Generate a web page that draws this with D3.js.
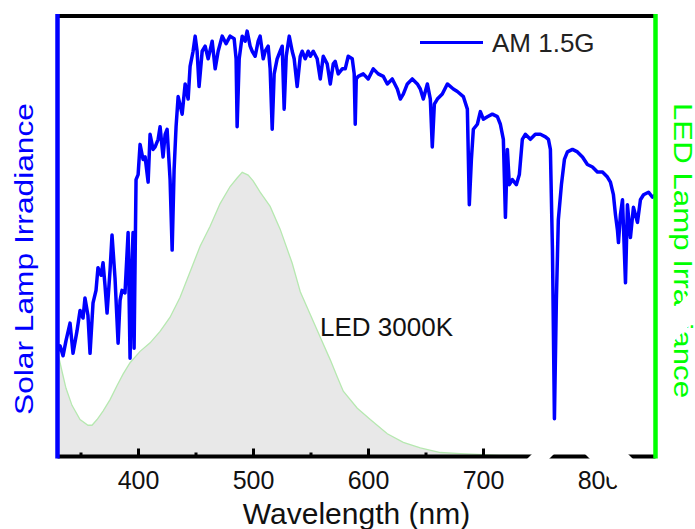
<!DOCTYPE html>
<html>
<head>
<meta charset="utf-8">
<script src="https://cdn.jsdelivr.net/npm/d3@7"></script>
<style>
  body { margin: 0; background: #fff; }
  svg { display: block; }
</style>
</head>
<body>
<div id="chart"></div>
<script>
// AM 1.5G solar spectrum (nm, W m-2 nm-1)
var solarWavelength = [330.4,332.2,334.8,337.4,340.9,343.5,347.0,349.6,352.2,353.9,
  356.5,358.3,360.9,363.5,365.2,367.9,369.6,371.3,373.1,375.7,
  377.4,380.0,382.7,384.4,386.1,388.7,391.4,393.1,394.8,395.7,
  396.6,398.3,400.1,401.8,404.4,406.2,408.8,410.5,413.1,414.9,
  417.5,419.2,421.8,423.6,425.3,427.9,429.7,431.4,433.1,434.9,
  438.4,441.0,443.6,445.3,447.9,449.7,451.4,453.1,455.8,458.4,
  461.0,464.5,467.1,469.7,473.2,476.6,480.1,483.6,485.3,486.2,
  488.0,490.6,493.2,494.9,497.5,499.3,501.9,504.5,506.2,508.9,
  510.6,513.2,514.9,516.7,518.4,521.0,523.6,525.4,527.1,528.9,
  531.5,534.1,535.8,538.4,541.1,542.8,545.4,548.0,549.8,552.4,
  555.8,558.5,561.1,564.5,567.2,569.8,571.5,574.1,577.6,580.2,
  582.8,586.3,588.0,588.9,589.8,591.5,595.9,600.2,604.6,608.9,
  613.3,616.8,621.1,625.5,628.1,630.7,634.2,638.5,642.9,645.5,
  648.1,651.6,654.2,655.9,657.7,660.3,664.6,669.0,674.2,677.7,
  682.9,686.4,688.1,689.9,691.6,695.1,697.7,700.3,703.8,708.1,
  712.5,715.1,717.7,719.5,721.2,722.9,725.5,729.0,731.6,734.2,
  736.8,741.2,745.5,749.9,754.3,756.9,758.6,760.4,762.1,763.8,
  765.5,768.2,770.8,773.4,777.8,782.1,786.5,790.8,795.2,799.5,
  803.9,808.2,810.8,813.4,815.2,816.9,817.8,819.5,821.3,823.9,
  825.6,828.2,830.8,834.3,836.9,839.6,843.9,847.4,850.0];
var solarIrradiance = [0.42,0.44,0.40,0.46,0.53,0.41,0.50,0.58,0.55,0.63,
  0.56,0.41,0.61,0.66,0.75,0.72,0.77,0.68,0.57,0.74,
  0.88,0.71,0.45,0.62,0.66,0.65,0.89,0.39,0.78,0.89,
  0.43,1.10,1.12,1.24,1.18,1.19,1.09,1.28,1.22,1.23,
  1.26,1.31,1.19,1.28,1.30,1.10,0.82,1.14,1.31,1.43,
  1.36,1.48,1.42,1.55,1.61,1.67,1.61,1.47,1.61,1.63,
  1.58,1.65,1.54,1.61,1.67,1.64,1.67,1.66,1.58,1.31,
  1.58,1.67,1.65,1.69,1.63,1.61,1.59,1.65,1.67,1.58,
  1.61,1.63,1.54,1.30,1.52,1.58,1.61,1.63,1.38,1.59,
  1.67,1.61,1.58,1.47,1.59,1.61,1.58,1.61,1.59,1.61,
  1.58,1.50,1.59,1.56,1.48,1.56,1.57,1.52,1.54,1.54,
  1.59,1.58,1.52,1.32,1.50,1.51,1.52,1.50,1.54,1.52,
  1.51,1.48,1.50,1.46,1.42,1.44,1.48,1.50,1.48,1.46,
  1.42,1.48,1.42,1.23,1.40,1.42,1.44,1.48,1.46,1.45,
  1.43,1.38,1.00,1.18,1.30,1.32,1.37,1.34,1.35,1.36,
  1.35,1.32,1.26,0.95,1.22,1.08,1.10,1.08,1.12,1.26,
  1.28,1.26,1.28,1.28,1.27,1.26,1.22,0.82,0.15,0.62,
  0.94,1.08,1.18,1.21,1.22,1.21,1.19,1.16,1.15,1.13,
  1.13,1.11,1.09,1.04,0.96,0.90,0.85,0.96,1.02,0.69,
  1.00,0.87,0.99,0.93,1.02,1.04,1.05,1.03,1.04];

// LED 3000K emission (normalised to its peak)
var ledWavelength = [330,333.9,337.4,342.6,349.6,356.5,360.0,364.4,369.6,375.7,
  381.8,387.0,393.1,401.8,410.5,419.2,427.9,436.6,445.3,454.0,
  462.7,471.4,480.1,486.2,490.6,495.8,500.1,506.2,514.9,523.6,
  534.1,541.1,549.8,558.5,567.2,573.3,578.5,590.7,602.0,616.8,
  630.7,645.5,662.9,680.3,715,767,850];
var ledIrradiance = [0.37,0.30,0.24,0.18,0.13,0.11,0.11,0.13,0.16,0.20,
  0.25,0.29,0.33,0.37,0.40,0.44,0.49,0.56,0.65,0.74,
  0.81,0.89,0.95,0.98,1.00,0.99,0.97,0.93,0.88,0.80,
  0.68,0.58,0.50,0.42,0.34,0.28,0.23,0.17,0.13,0.08,
  0.05,0.03,0.014,0.01,0.004,0.002,0];

var xTicks = [400, 500, 600, 700, 800];
var xMinorTicks = [350, 450, 550, 650, 750];

var width = 695, height = 529;
var plotLeft = 57.5, plotRight = 655.5, plotTop = 16, plotBottom = 456.5;
var font = "'Liberation Sans', Arial, sans-serif";

var svg = d3.select("#chart").append("svg")
  .attr("width", width)
  .attr("height", height);

var x = d3.scaleLinear().domain([330, 850]).range([plotLeft, plotRight]);
var ySolar = d3.scaleLinear().domain([0, 1.75]).range([plotBottom, plotTop]);
var yLed = d3.scaleLinear().domain([0, 1.55]).range([plotBottom, plotTop]);

var solarData = solarWavelength.map(function (w, i) { return { w: w, v: solarIrradiance[i] }; });
var ledData = ledWavelength.map(function (w, i) { return { w: w, v: ledIrradiance[i] }; });

// LED spectrum, grey fill with pale green outline
svg.append("path")
  .datum(ledData)
  .attr("d", d3.area()
    .x(function (d) { return x(d.w); })
    .y0(yLed(0))
    .y1(function (d) { return yLed(d.v); }))
  .attr("fill", "#e8e8e8");

svg.append("path")
  .datum(ledData)
  .attr("d", d3.line()
    .x(function (d) { return x(d.w); })
    .y(function (d) { return yLed(d.v); }))
  .attr("fill", "none")
  .attr("stroke", "#b6e8b0")
  .attr("stroke-width", 1.3);

// solar spectrum
svg.append("path")
  .datum(solarData)
  .attr("d", d3.line()
    .x(function (d) { return x(d.w); })
    .y(function (d) { return ySolar(d.v); }))
  .attr("fill", "none")
  .attr("stroke", "#0000ff")
  .attr("stroke-width", 3.5)
  .attr("stroke-linejoin", "round");

// bottom axis, ticks pointing inward
var xAxis = svg.append("g")
  .attr("transform", "translate(0," + plotBottom + ")")
  .call(d3.axisBottom(x).tickValues(xTicks).tickSize(-8).tickSizeOuter(0).tickPadding(24));
xAxis.select(".domain").remove();
xAxis.selectAll(".tick line").attr("stroke", "#000").attr("stroke-width", 3);
xAxis.selectAll(".tick text")
  .attr("font-family", font)
  .attr("font-size", "25px")
  .attr("fill", "#111")
  .attr("dy", "0.32em");

var xMinor = svg.append("g")
  .attr("transform", "translate(0," + plotBottom + ")")
  .call(d3.axisBottom(x).tickValues(xMinorTicks).tickSize(-4).tickSizeOuter(0).tickFormat(""));
xMinor.select(".domain").remove();
xMinor.selectAll(".tick line").attr("stroke", "#000").attr("stroke-width", 3);

// frame: black top and bottom, blue left
svg.append("line").attr("x1", plotLeft).attr("x2", plotRight).attr("y1", plotTop).attr("y2", plotTop)
  .attr("stroke", "#000").attr("stroke-width", 4);
svg.append("line").attr("x1", plotLeft).attr("x2", plotRight).attr("y1", plotBottom).attr("y2", plotBottom)
  .attr("stroke", "#000").attr("stroke-width", 4);
svg.append("line").attr("x1", plotLeft).attr("x2", plotLeft).attr("y1", plotTop - 2).attr("y2", plotBottom + 2)
  .attr("stroke", "#0000ff").attr("stroke-width", 4.5);

// axis titles
svg.append("text")
  .attr("x", (plotLeft + plotRight) / 2)
  .attr("y", 524)
  .attr("text-anchor", "middle")
  .attr("font-family", font)
  .attr("font-size", "30px")
  .attr("fill", "#111")
  .text("Wavelength (nm)");

svg.append("text")
  .attr("transform", "translate(33,259) rotate(-90)")
  .attr("text-anchor", "middle")
  .attr("font-family", font)
  .attr("font-size", "25px")
  .attr("textLength", 312)
  .attr("lengthAdjust", "spacingAndGlyphs")
  .attr("fill", "#0000ff")
  .text("Solar Lamp Irradiance");

svg.append("text")
  .attr("transform", "translate(674,250.5) rotate(90)")
  .attr("text-anchor", "middle")
  .attr("font-family", font)
  .attr("font-size", "25px")
  .attr("textLength", 295)
  .attr("lengthAdjust", "spacingAndGlyphs")
  .attr("fill", "#00ff00")
  .text("LED Lamp Irradiance");

// legend and label
svg.append("line").attr("x1", 420).attr("x2", 483).attr("y1", 42.5).attr("y2", 42.5)
  .attr("stroke", "#0000ff").attr("stroke-width", 3);
svg.append("text")
  .attr("x", 492).attr("y", 52)
  .attr("font-family", font).attr("font-size", "26px").attr("fill", "#222")
  .text("AM 1.5G");

svg.append("text")
  .attr("x", 320).attr("y", 336)
  .attr("font-family", font).attr("font-size", "26px").attr("fill", "#111")
  .text("LED 3000K");

// blank watermark strokes that cut through the original picture
var mask = svg.append("g").attr("fill", "#fff");
[
  [[640,343],[697,286],[697,318],[656,359]],
  [[508,478],[633,353],[644,364],[519,489]],
  [[569.5,438.5],[591,417],[705,531],[662,531]],
  [[466,531],[493,503],[521,531]]
].forEach(function (pts) {
  mask.append("polygon").attr("points", pts.map(function (p) { return p.join(","); }).join(" "));
});

// green right axis stays whole
svg.append("line").attr("x1", plotRight).attr("x2", plotRight).attr("y1", plotTop - 2).attr("y2", plotBottom + 2)
  .attr("stroke", "#00ff00").attr("stroke-width", 4.5);
</script>
</body>
</html>
